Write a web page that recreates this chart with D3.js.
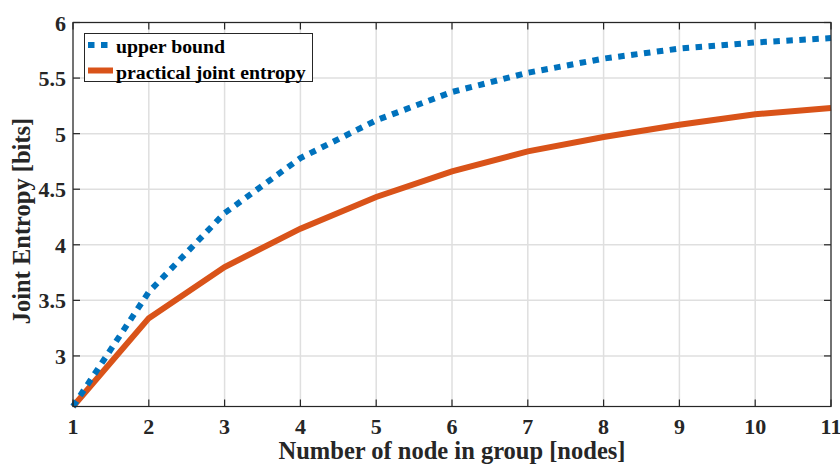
<!DOCTYPE html>
<html><head><meta charset="utf-8">
<script src="https://cdn.jsdelivr.net/npm/d3@7"></script>
<style>body{margin:0;background:#fff}svg{display:block}</style>
</head><body><svg id="c" width="840" height="465"></svg>
<script>
const nodes = [1,2,3,4,5,6,7,8,9,10,11];
const upperBound = [2.545,3.575,4.285,4.78,5.12,5.375,5.548,5.675,5.765,5.82,5.86];
const practical = [2.545,3.34,3.80,4.145,4.43,4.66,4.84,4.97,5.08,5.175,5.23];
const xTicks = [1,2,3,4,5,6,7,8,9,10,11];
const yTicks = [3,3.5,4,4.5,5,5.5,6];
const seriesNames = ["upper bound","practical joint entropy"];
const colors = ["#0072BD","#D95319"];

const FF = "Liberation Serif";
const svg = d3.select("#c");
const L=73, R=831, T=22.5, B=406.5;
const x = d3.scaleLinear().domain([1,11]).range([L,R]);
const y = d3.scaleLinear().domain([2.545,6]).range([B,T]);

function txt(sel){ return sel.attr("font-family",FF).attr("font-weight","bold"); }

// grid
const g = svg.append("g");
g.selectAll(".gx").data(xTicks).join("line").attr("x1",d=>x(d)).attr("x2",d=>x(d)).attr("y1",T).attr("y2",B).attr("stroke","#dfdfdf").attr("stroke-width",1.5);
g.selectAll(".gy").data(yTicks).join("line").attr("x1",L).attr("x2",R).attr("y1",d=>y(d)).attr("y2",d=>y(d)).attr("stroke","#dfdfdf").attr("stroke-width",1.5);

// lines
const line = d3.line().x((d,i)=>x(nodes[i])).y(d=>y(d));
svg.append("path").datum(practical).attr("d",line).attr("fill","none").attr("stroke",colors[1]).attr("stroke-width",6).attr("stroke-linejoin","miter");
svg.append("path").datum(upperBound).attr("d",line).attr("fill","none").attr("stroke",colors[0]).attr("stroke-width",6).attr("stroke-dasharray","6.5,6.5");

// axes
const ax = svg.append("g").attr("stroke","#262626").attr("stroke-width",1.2);
ax.append("rect").attr("x",L).attr("y",T).attr("width",R-L).attr("height",B-T).attr("fill","none");
const tl=7;
xTicks.forEach(d=>{
  ax.append("line").attr("x1",x(d)).attr("x2",x(d)).attr("y1",B).attr("y2",B-tl);
  ax.append("line").attr("x1",x(d)).attr("x2",x(d)).attr("y1",T).attr("y2",T+tl);
});
yTicks.forEach(d=>{
  ax.append("line").attr("x1",L).attr("x2",L+tl).attr("y1",y(d)).attr("y2",y(d));
  ax.append("line").attr("x1",R).attr("x2",R-tl).attr("y1",y(d)).attr("y2",y(d));
});
const tc="#262626";
txt(svg.selectAll(".xl").data(xTicks).join("text")).attr("x",d=>x(d)).attr("y",434).attr("text-anchor","middle").attr("font-size",22).attr("fill",tc).text(d=>d);
txt(svg.selectAll(".yl").data(yTicks).join("text")).attr("x",66).attr("y",d=>y(d)+8).attr("text-anchor","end").attr("font-size",22).attr("fill",tc).text(d=>d);

txt(svg.append("text")).attr("x",(L+R)/2).attr("y",459).attr("text-anchor","middle").attr("font-size",24.5).attr("fill",tc).text("Number of node in group [nodes]");
txt(svg.append("text")).attr("transform",`translate(30,221) rotate(-90)`).attr("text-anchor","middle").attr("font-size",24.5).attr("fill",tc).text("Joint Entropy [bits]");

// legend
const lg = svg.append("g");
lg.append("rect").attr("x",84.5).attr("y",33.5).attr("width",228).attr("height",48).attr("fill","#fff").attr("stroke","#262626").attr("stroke-width",1);
seriesNames.forEach((n,i)=>{
  const yy = 45+i*25.5;
  lg.append("line").attr("x1",88).attr("x2",113).attr("y1",yy).attr("y2",yy).attr("stroke",colors[i]).attr("stroke-width",6).attr("stroke-dasharray",i===0?"6.5,6.5":null);
  txt(lg.append("text")).attr("x",116).attr("y",yy+8).attr("font-size",19.8).attr("fill","#000").text(n);
});
</script></body></html>
